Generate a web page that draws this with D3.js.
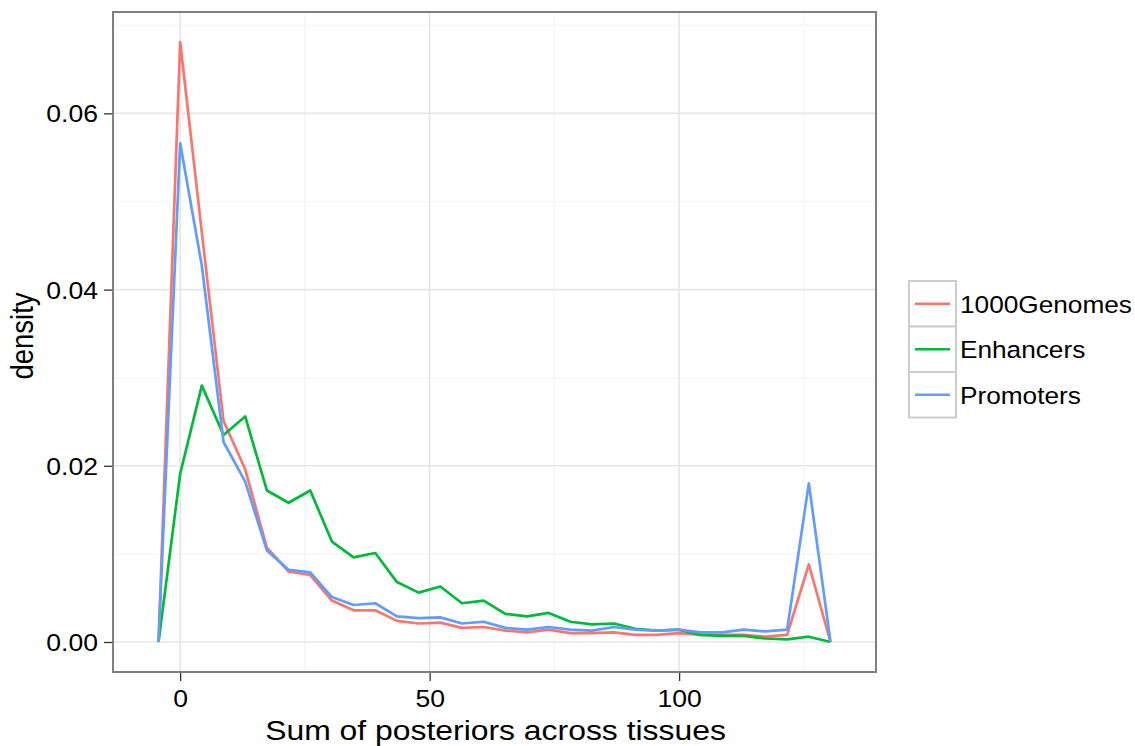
<!DOCTYPE html>
<html>
<head>
<meta charset="utf-8">
<script src="https://cdn.jsdelivr.net/npm/d3@7"></script>
<style>
html,body{margin:0;padding:0;background:#fff;}
svg{display:block;font-family:"Liberation Sans",Arial,Helvetica,sans-serif;}
</style>
</head>
<body>
<svg id="chart" width="1135" height="746"></svg>
<script>
// ---- data ----
const seriesNames = ["1000Genomes", "Enhancers", "Promoters"];
const seriesColors = ["#F8766D", "#00BA38", "#619CFF"];
const binCenters = [-4.34, 0, 4.34, 8.69, 13.03, 17.38, 21.72, 26.07, 30.41, 34.76, 39.10,
  43.45, 47.79, 52.14, 56.48, 60.83, 65.17, 69.52, 73.86, 78.21, 82.55, 86.90, 91.24,
  95.59, 99.93, 104.28, 108.62, 112.97, 117.31, 121.66, 126.00, 130.34];
const binWidth = 4.345;
const genomes1000 = [0, 0.0681, 0.0465, 0.0251, 0.0196, 0.0107, 0.0080, 0.0076, 0.0047, 0.0036, 0.0036,
  0.0024, 0.0021, 0.0022, 0.0016, 0.0017, 0.0013, 0.0011, 0.0014, 0.0010, 0.0010, 0.0011, 0.0008,
  0.0008, 0.0010, 0.0008, 0.0008, 0.0008, 0.0006, 0.0008, 0.0088, 0];
const enhancers = [0, 0.0191, 0.0291, 0.0235, 0.0256, 0.0172, 0.0158, 0.0172, 0.0114, 0.0096, 0.0101,
  0.0068, 0.0056, 0.0063, 0.0044, 0.0047, 0.0032, 0.0029, 0.0033, 0.0023, 0.0020, 0.0021, 0.0015,
  0.0013, 0.0014, 0.0008, 0.0007, 0.0007, 0.0004, 0.0003, 0.0006, 0];
const promoters = [0, 0.0566, 0.0427, 0.0227, 0.0182, 0.0104, 0.0082, 0.0079, 0.0051, 0.0042, 0.0044,
  0.0029, 0.0027, 0.0028, 0.0021, 0.0023, 0.0016, 0.0014, 0.0017, 0.0014, 0.0013, 0.0017, 0.0014,
  0.0013, 0.0014, 0.0011, 0.0011, 0.0014, 0.0012, 0.0014, 0.0180, 0];
const xTicks = [0, 50, 100];
const xMinor = [25, 75, 125];
const yTicks = [0, 0.02, 0.04, 0.06];
const yMinor = [0.01, 0.03, 0.05, 0.07];
const xTitle = "Sum of posteriors across tissues";
const yTitle = "density";

const seriesValues = [genomes1000, enhancers, promoters];

// ---- layout ----
const panel = {left: 113, right: 876, top: 12, bottom: 672};
const svg = d3.select("#chart");

// x scale trained on bin edges, expanded 5%
const xLo = binCenters[0] - binWidth / 2, xHi = binCenters[binCenters.length - 1] + binWidth / 2;
const xPad = (xHi - xLo) * 0.05;
const x = d3.scaleLinear().domain([xLo - xPad, xHi + xPad]).range([panel.left, panel.right]);
const yMax = d3.max(seriesValues.flat());
const yPad = yMax * 0.05;
const y = d3.scaleLinear().domain([-yPad, yMax + yPad]).range([panel.bottom, panel.top]);

const g = svg.append("g");

// panel background
g.append("rect").attr("x", panel.left).attr("y", panel.top)
  .attr("width", panel.right - panel.left).attr("height", panel.bottom - panel.top)
  .attr("fill", "#fff");

// grid
const clipG = g.append("g");
clipG.selectAll(".xminor").data(xMinor).join("line")
  .attr("x1", d => x(d)).attr("x2", d => x(d)).attr("y1", panel.top).attr("y2", panel.bottom)
  .attr("stroke", "#f7f7f7").attr("stroke-width", 1.6);
clipG.selectAll(".yminor").data(yMinor).join("line")
  .attr("y1", d => y(d)).attr("y2", d => y(d)).attr("x1", panel.left).attr("x2", panel.right)
  .attr("stroke", "#f7f7f7").attr("stroke-width", 1.6);
clipG.selectAll(".xmajor").data(xTicks).join("line")
  .attr("x1", d => x(d)).attr("x2", d => x(d)).attr("y1", panel.top).attr("y2", panel.bottom)
  .attr("stroke", "#e6e6e6").attr("stroke-width", 1.6);
clipG.selectAll(".ymajor").data(yTicks).join("line")
  .attr("y1", d => y(d)).attr("y2", d => y(d)).attr("x1", panel.left).attr("x2", panel.right)
  .attr("stroke", "#e6e6e6").attr("stroke-width", 1.6);

// lines
const line = d3.line().x((d, i) => x(binCenters[i])).y(d => y(d));
seriesValues.forEach((vals, si) => {
  g.append("path").datum(vals).attr("d", line)
    .attr("fill", "none").attr("stroke", seriesColors[si])
    .attr("stroke-width", 2.7).attr("stroke-linejoin", "round").attr("stroke-linecap", "butt");
});

// panel border
g.append("rect").attr("x", panel.left).attr("y", panel.top)
  .attr("width", panel.right - panel.left).attr("height", panel.bottom - panel.top)
  .attr("fill", "none").attr("stroke", "#7f7f7f").attr("stroke-width", 2);

// axes
const xAxis = d3.axisBottom(x).tickValues(xTicks).tickSize(8).tickPadding(0).tickFormat(d3.format("d"));
const xg = svg.append("g").attr("transform", `translate(0,${panel.bottom + 1})`).call(xAxis);
xg.select(".domain").remove();
xg.selectAll(".tick line").attr("stroke", "#333").attr("stroke-width", 1.3);
xg.selectAll(".tick text").remove();
xg.selectAll(".tick").append("text")
  .attr("transform", "translate(0,34) scale(1.13,1)")
  .attr("text-anchor", "middle").attr("fill", "#000")
  .attr("font-size", 23.5).text(d => d3.format("d")(d));

const yAxis = d3.axisLeft(y).tickValues(yTicks).tickSize(8).tickPadding(0);
const yg = svg.append("g").attr("transform", `translate(${panel.left - 1},0)`).call(yAxis);
yg.select(".domain").remove();
yg.selectAll(".tick line").attr("stroke", "#333").attr("stroke-width", 1.3);
yg.selectAll(".tick text").remove();
yg.selectAll(".tick").append("text")
  .attr("transform", "translate(-14,8.5) scale(1.13,1)")
  .attr("text-anchor", "end").attr("fill", "#000")
  .attr("font-size", 23.5).text(d => d3.format(".2f")(d));

// axis titles
svg.append("text")
  .attr("transform", `translate(${(panel.left + panel.right) / 2 + 1},740) scale(1.16,1)`)
  .attr("text-anchor", "middle").attr("font-size", 27.5).attr("fill", "#000").text(xTitle);
svg.append("text")
  .attr("transform", `translate(33,${(panel.top + panel.bottom) / 2 - 6}) scale(1.12,1) rotate(-90)`)
  .attr("text-anchor", "middle").attr("font-size", 27.5).attr("fill", "#000").text(yTitle);

// legend
const leg = svg.append("g").attr("transform", "translate(909,281)");
const keyW = 47, keyH = 45.5;
const items = leg.selectAll(".item").data(seriesNames).join("g")
  .attr("transform", (d, i) => `translate(0,${i * keyH})`);
items.append("rect").attr("x", 0).attr("y", 0).attr("width", keyW).attr("height", keyH)
  .attr("fill", "#fff").attr("stroke", "#cccccc").attr("stroke-width", 2);
items.append("line").attr("x1", 6).attr("x2", keyW - 6).attr("y1", keyH / 2).attr("y2", keyH / 2)
  .attr("stroke", (d, i) => seriesColors[i]).attr("stroke-width", 2.7);
items.append("text")
  .attr("transform", `translate(${keyW + 4},${keyH / 2 + 8.8}) scale(1.07,1)`)
  .attr("font-size", 24.5).attr("fill", "#000").text(d => d);
</script>
</body>
</html>
